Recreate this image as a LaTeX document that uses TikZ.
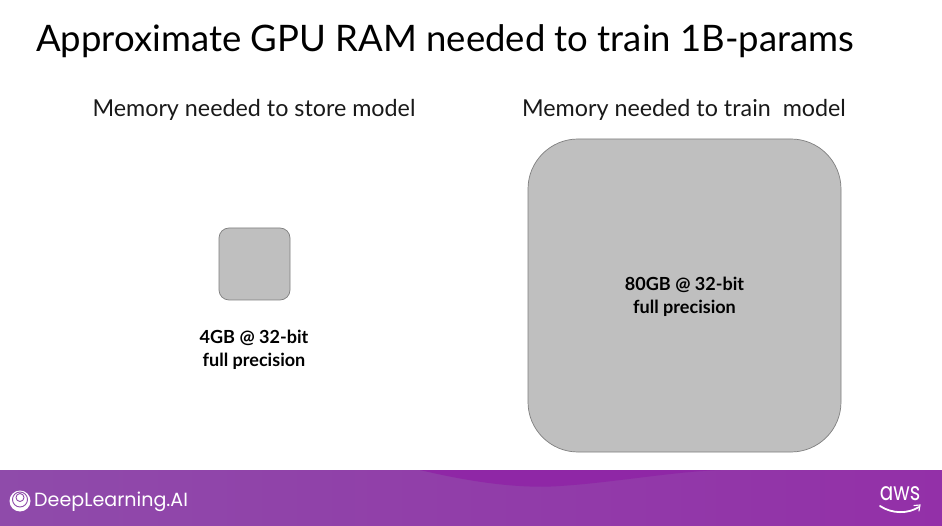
\documentclass[tikz,border=0pt]{standalone}
\usepackage{fontspec}
\setmainfont{Lato}
\newfontfamily\logofont{Poppins}
\usetikzlibrary{positioning}
\definecolor{boxgray}{HTML}{BFBFBF}
\definecolor{boxedge}{HTML}{7F7F7F}
\definecolor{bandleft}{HTML}{8F4BAA}
\definecolor{bandright}{HTML}{9330A8}
\definecolor{bandwave}{HTML}{8F27A6}
\tikzset{
  heading/.style={font=\fontsize{23.3}{28}\selectfont,text=black!90,inner sep=0pt},
  caption/.style={font=\fontsize{18.05}{22.5}\selectfont\bfseries,text=black,align=center,inner sep=0pt},
  membox/.style={draw=boxedge,fill=boxgray,line width=0.7pt}
}
\begin{document}
\begin{tikzpicture}[x=1pt,y=-1pt]
\useasboundingbox (0,0) rectangle (942,526);
\fill[white](0,0)rectangle(942,526);

\node[anchor=west,inner sep=0pt,font=\fontsize{36.5}{45}\selectfont,text=black] (title) at (36,41) {Approximate GPU RAM needed to train 1B-params};

\node[heading] (storehead) at (254,110) {Memory needed to store model};
\node[heading] (trainhead) at (684,110) {Memory needed to train\ \ model};

\draw[membox,rounded corners=10pt](219,228)rectangle(290,300);
\draw[membox,rounded corners=50pt](528,139)rectangle(841,452);

\node[caption] (storetext) at (254,350) {4GB @ 32-bit\\full precision};
\node[caption] (traintext) at (684.5,297) {80GB @ 32-bit\\full precision};

% footer band
\shade[left color=bandleft,right color=bandright](0,470)rectangle(942,526);
\fill[bandwave](420,470)..controls (470,482) and (520,489) .. (560,486)..controls (610,483) and (670,472) .. (720,470)--cycle;

\fill[white](20,501)circle[radius=10.5];
\draw[bandleft,line width=0.9pt](20,499.5)circle[radius=7.5];
\draw[bandleft,line width=0.9pt](20,497.5)circle[radius=4];
\node[anchor=west,inner sep=0pt,text=white,font=\logofont\fontsize{19.1}{22}\selectfont] (logoleft) at (34,502) {DeepLearning.AI};

\node[inner sep=0pt,text=white,yscale=1.25,font=\logofont\fontsize{20}{20}\selectfont] (logoright) at (900,494) {aws};
\draw[white,line width=1.8pt,line cap=round](880,506)..controls (892,514) and (908,514) .. (919,507);
\draw[white,line width=1.1pt,line cap=round](914,505.5)--(920,505)--(919,511);
\end{tikzpicture}
\end{document}
